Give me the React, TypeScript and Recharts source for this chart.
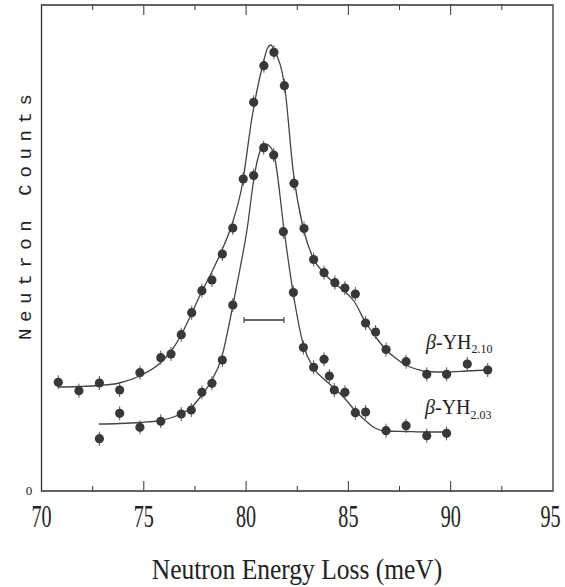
import {
  ComposedChart,
  Customized,
  ErrorBar,
  Line,
  ReferenceArea,
  ReferenceLine,
  Scatter,
  XAxis,
  YAxis,
} from 'recharts'

// energy loss (meV) / counts (arb. units)
const yh210Points = [
  { x: 70.82, y: 108.7, err: 7 },
  { x: 71.83, y: 100.3, err: 7 },
  { x: 72.83, y: 108, err: 7 },
  { x: 73.82, y: 101, err: 7 },
  { x: 74.81, y: 118.3, err: 7 },
  { x: 75.83, y: 133.3, err: 7 },
  { x: 76.33, y: 137, err: 7 },
  { x: 76.83, y: 156.3, err: 7 },
  { x: 77.34, y: 178.3, err: 7 },
  { x: 77.84, y: 200.3, err: 7 },
  { x: 78.33, y: 211, err: 7 },
  { x: 78.84, y: 237, err: 7 },
  { x: 79.35, y: 263, err: 7 },
  { x: 79.86, y: 312, err: 7 },
  { x: 80.37, y: 388.7, err: 7 },
  { x: 80.87, y: 425.3, err: 7 },
  { x: 81.36, y: 438.7, err: 7 },
  { x: 81.87, y: 405.3, err: 7 },
  { x: 82.34, y: 307.7, err: 7 },
  { x: 82.83, y: 262.5, err: 7 },
  { x: 83.3, y: 231.5, err: 7 },
  { x: 83.81, y: 218.3, err: 7 },
  { x: 84.34, y: 208.3, err: 7 },
  { x: 84.83, y: 203, err: 7 },
  { x: 85.34, y: 197, err: 7 },
  { x: 85.84, y: 168, err: 7 },
  { x: 86.33, y: 159, err: 7 },
  { x: 86.84, y: 141.5, err: 7 },
  { x: 87.82, y: 129.3, err: 7 },
  { x: 88.83, y: 116.7, err: 7 },
  { x: 89.8, y: 116.7, err: 7 },
  { x: 90.81, y: 127, err: 7 },
  { x: 91.81, y: 121, err: 7 },
]

const yh203Points = [
  { x: 72.83, y: 52.3, err: 7 },
  { x: 73.82, y: 77.7, err: 7 },
  { x: 74.81, y: 63.7, err: 7 },
  { x: 75.83, y: 69.7, err: 7 },
  { x: 76.83, y: 77, err: 7 },
  { x: 77.32, y: 81, err: 7 },
  { x: 77.84, y: 98.7, err: 7 },
  { x: 78.33, y: 107.7, err: 7 },
  { x: 78.84, y: 131, err: 7 },
  { x: 79.35, y: 186, err: 7 },
  { x: 80.37, y: 315.5, err: 7 },
  { x: 80.86, y: 343.3, err: 7 },
  { x: 81.35, y: 336, err: 7 },
  { x: 81.82, y: 259.3, err: 7 },
  { x: 82.31, y: 198.5, err: 7 },
  { x: 82.8, y: 143.5, err: 7 },
  { x: 83.3, y: 123.7, err: 7 },
  { x: 83.81, y: 131.7, err: 7 },
  { x: 84.07, y: 115, err: 7 },
  { x: 84.31, y: 101, err: 7 },
  { x: 84.83, y: 98.7, err: 7 },
  { x: 85.34, y: 78.3, err: 7 },
  { x: 85.84, y: 79, err: 7 },
  { x: 86.84, y: 60.3, err: 7 },
  { x: 87.82, y: 65.3, err: 7 },
  { x: 88.83, y: 55.3, err: 7 },
  { x: 89.8, y: 57.7, err: 7 },
]

// fitted curves
const yh210Fit = [
  [70.8, 104], [71.8, 104.5], [72.8, 105.5], [73.8, 108], [74.8, 115],
  [75.8, 128], [76.3, 139], [76.8, 155], [77.3, 176], [77.8, 198],
  [78.3, 218], [78.8, 240], [79.3, 266], [79.8, 305], [80.3, 375],
  [80.8, 425], [81.05, 443], [81.2, 446], [81.4, 440], [81.9, 402],
  [82.3, 320], [82.8, 262], [83.3, 232], [83.8, 218], [84.3, 208],
  [84.8, 200], [85.3, 189], [85.8, 170], [86.3, 155], [86.8, 142],
  [87.3, 133], [87.8, 126], [88.3, 122], [88.8, 119.5], [89.8, 119],
  [90.8, 120], [91.8, 121],
].map(([x, y]) => ({ x, y }))

const yh203Fit = [
  [72.8, 67], [73.8, 67.5], [74.8, 68.5], [75.8, 70.5], [76.3, 73],
  [76.8, 77], [77.3, 83], [77.8, 95], [78.3, 110], [78.8, 133],
  [79.3, 180], [79.7, 222], [80.05, 262], [80.4, 315], [80.65, 338],
  [80.9, 347], [81.15, 345], [81.4, 333], [81.85, 262], [82.3, 198],
  [82.8, 146], [83.3, 123], [83.8, 112], [84.3, 103], [84.8, 93],
  [85.3, 81], [85.8, 71], [86.3, 63], [86.8, 60], [87.8, 59.5],
  [88.8, 59], [89.8, 59],
].map(([x, y]) => ({ x, y }))

// instrumental resolution bar
const resolution = { from: 79.9, to: 81.85, y: 171 }

const xTicks = [70, 75, 80, 85, 90, 95]
const minorTicks = [72.5, 77.5, 82.5, 87.5, 92.5]
const innerMajor = [75, 80, 85, 90]
const Y_MAX = 486

const INK = '#333'
const serif = '"Liberation Serif", "DejaVu Serif", serif'

function XTick(props: any) {
  const { x, y, payload } = props
  // last label sits against the page edge
  const shift = payload.value === 95 ? -2.5 : 0
  // the original face is a narrow serif: squeeze it horizontally
  return (
    <text
      transform={`translate(${x + shift},${y + 36}) scale(0.65,1)`}
      textAnchor="middle"
      fontFamily={serif}
      fontSize={31}
      fill="#222"
    >
      {payload.value}
    </text>
  )
}

function Dot(props: any) {
  const { cx, cy } = props
  if (cx == null || cy == null) return null
  return <circle cx={cx} cy={cy} r={4.6} fill="#383838" />
}

function Texts() {
  return (
    <g fontFamily={serif} fill="#222">
      <text
        transform="translate(31,217) rotate(-90)"
        textAnchor="middle"
        fontFamily='"Liberation Mono", monospace'
        fontSize={19}
        textLength={246}
        lengthAdjust="spacing"
      >
        Neutron Counts
      </text>
      <text x={29} y={495} textAnchor="middle" fontSize={13}>
        0
      </text>
      <text
        transform="translate(297,579) scale(0.85,1)"
        textAnchor="middle"
        fontSize={30}
      >
        Neutron Energy Loss (meV)
      </text>
      <text x={426} y={348.5} fontSize={20}>
        <tspan fontStyle="italic">β</tspan>-YH
        <tspan fontSize={12} dy={4}>2.10</tspan>
      </text>
      <text x={425} y={413.5} fontSize={20}>
        <tspan fontStyle="italic">β</tspan>-YH
        <tspan fontSize={12} dy={5}>2.03</tspan>
      </text>
    </g>
  )
}

export default function App() {
  return (
    <div style={{ position: 'absolute', left: 0, top: 0, background: '#fff' }}>
      <ComposedChart
        width={565}
        height={587}
        margin={{ top: 5, right: 12, bottom: 66, left: 41.5 }}
      >
        <XAxis
          type="number"
          dataKey="x"
          domain={[70, 95]}
          ticks={xTicks}
          interval={0}
          allowDataOverflow
          axisLine={false}
          tickLine={false}
          tickSize={0}
          tickMargin={0}
          height={30}
          tick={<XTick />}
        />
        <YAxis type="number" dataKey="y" domain={[0, Y_MAX]} hide allowDataOverflow />

        <ReferenceArea
          x1={70}
          x2={95}
          y1={0}
          y2={Y_MAX}
          fill="none"
          stroke={INK}
          strokeWidth={1.3}
        />
        {innerMajor.map((t) => (
          <ReferenceLine
            key={`bm${t}`}
            segment={[{ x: t, y: 0 }, { x: t, y: 10 }]}
            stroke={INK}
          />
        ))}
        {innerMajor.map((t) => (
          <ReferenceLine
            key={`tm${t}`}
            segment={[{ x: t, y: Y_MAX }, { x: t, y: Y_MAX - 10 }]}
            stroke={INK}
          />
        ))}
        {minorTicks.map((t) => (
          <ReferenceLine
            key={`bn${t}`}
            segment={[{ x: t, y: 0 }, { x: t, y: 5 }]}
            stroke={INK}
          />
        ))}
        {minorTicks.map((t) => (
          <ReferenceLine
            key={`tn${t}`}
            segment={[{ x: t, y: Y_MAX }, { x: t, y: Y_MAX - 5 }]}
            stroke={INK}
          />
        ))}

        <ReferenceLine
          segment={[
            { x: resolution.from, y: resolution.y },
            { x: resolution.to, y: resolution.y },
          ]}
          stroke={INK}
          strokeWidth={1.3}
        />
        <ReferenceLine
          segment={[
            { x: resolution.from, y: resolution.y - 3 },
            { x: resolution.from, y: resolution.y + 3 },
          ]}
          stroke={INK}
        />
        <ReferenceLine
          segment={[
            { x: resolution.to, y: resolution.y - 3 },
            { x: resolution.to, y: resolution.y + 3 },
          ]}
          stroke={INK}
        />

        <Line
          data={yh210Fit}
          dataKey="y"
          type="monotone"
          stroke="#444"
          strokeWidth={1.3}
          dot={false}
          isAnimationActive={false}
        />
        <Line
          data={yh203Fit}
          dataKey="y"
          type="monotone"
          stroke="#444"
          strokeWidth={1.3}
          dot={false}
          isAnimationActive={false}
        />
        <Scatter data={yh210Points} shape={<Dot />} isAnimationActive={false}>
          <ErrorBar dataKey="err" direction="y" width={0} stroke="#555" strokeWidth={1} />
        </Scatter>
        <Scatter data={yh203Points} shape={<Dot />} isAnimationActive={false}>
          <ErrorBar dataKey="err" direction="y" width={0} stroke="#555" strokeWidth={1} />
        </Scatter>

        <Customized component={<Texts />} />
      </ComposedChart>
    </div>
  )
}
